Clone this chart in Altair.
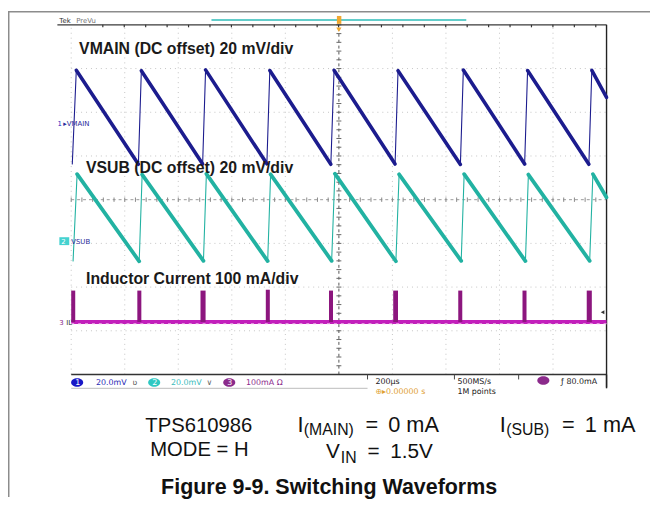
import altair as alt
import pandas as pd

# ---------------- data ----------------
US_PER_DIV = 200          # time base 200 us/div
MV_PER_DIV = 20           # VMAIN / VSUB 20 mV/div
MA_PER_DIV = 100          # inductor current 100 mA/div

# VMAIN sawtooth vertices (time in us relative to trigger, mV around channel marker)
vmain_t = [-996, -981, -749, -738, -509, -498, -269, -258, -30, -18, 210, 221, 454, 465, 694, 705, 934, 945, 1000]
vmain_mv = [-18.5, 24.4, -18.6, 24.2, -18.5, 24.6, -18.4, 24.3, -18.6, 24.4, -18.5, 24.2, -18.7, 24.5, -18.5, 24.3, -18.6, 24.4, 12.0]

# VSUB sawtooth vertices
vsub_t = [-993, -978, -746, -735, -506, -495, -266, -255, -27, -15, 213, 225, 457, 468, 697, 708, 937, 949, 1000]
vsub_mv = [-9.0, 30.7, -9.2, 30.5, -9.0, 30.8, -9.1, 30.6, -9.0, 30.9, -9.2, 30.6, -9.0, 30.7, -9.1, 30.5, -9.0, 30.7, 20.0]

# inductor current pulses (start/end in us, peak in mA)
il_start = [-1000, -753, -517, -273, -37, 203, 446, 686, 926]
il_end = [-985, -738, -498, -258, -22, 221, 461, 701, 945]
il_peak_ma = [72, 72, 72, 74, 72, 72, 72, 72, 72]

# channel marker positions (divisions from screen centre)
ch_offset = {"VMAIN": 1.74, "VSUB": -0.95, "IL": -2.80}

# ---------------- layout helpers ----------------
W, H = 650, 492
OFF = 8
X_REF0, X_PX_DIV = 343.0, 54.2
Y_REF0, Y_PX_DIV = 199.0, 44.25


def tx(xr):
    return (xr - X_REF0) / X_PX_DIV * US_PER_DIV


def dy(yr):
    return (Y_REF0 - yr) / Y_PX_DIV


xs = alt.Scale(domain=[tx(OFF), tx(OFF + W)], nice=False, zero=False)
ys = alt.Scale(domain=[dy(OFF + H), dy(OFF)], nice=False, zero=False)


def X(f="x"):
    return alt.X(f"{f}:Q", scale=xs, axis=None)


def Y(f="y"):
    return alt.Y(f"{f}:Q", scale=ys, axis=None)


def segs(rows):
    return pd.DataFrame(rows, columns=["x", "y", "x2", "y2", "c", "w", "d"])


def rules(df, **kw):
    return alt.Chart(df).mark_rule(**kw).encode(
        x=X("x"), y=Y("y"), x2="x2:Q", y2="y2:Q",
        color=alt.Color("c:N", scale=None),
        size=alt.Size("w:Q", scale=None),
    )


def texts(rows, align="left", **kw):
    df = pd.DataFrame(rows, columns=["t", "xr", "yr", "c"])
    df["x"] = df.xr.map(tx)
    df["y"] = df.yr.map(dy)
    return alt.Chart(df).mark_text(align=align, baseline="alphabetic", **kw).encode(
        x=X("x"), y=Y("y"), text="t:N", color=alt.Color("c:N", scale=None)
    )


layers = []

# ---------------- graticule ----------------
grid_v = [tx(72 + i * X_PX_DIV) for i in range(10) if i != 5]
grid_h = [i for i in range(-3, 4) if i != 0]
gv = pd.DataFrame({"x": grid_v, "y": -4, "y2": 4})
gh = pd.DataFrame({"y": grid_h, "x": tx(72), "x2": tx(614)})
layers.append(alt.Chart(gv).mark_rule(color="#c4c4c4", strokeDash=[1, 4], strokeWidth=1).encode(x=X("x"), y=Y("y"), y2="y2:Q"))
layers.append(alt.Chart(gh).mark_rule(color="#c4c4c4", strokeDash=[1, 4], strokeWidth=1).encode(y=Y("y"), x=X("x"), x2="x2:Q"))

# centre cross-hair with minor ticks
cross = segs([
    [0, -4, 0, 4, "#555555", 1, 0],
    [tx(72), 0, tx(614), 0, "#9a9a9a", 1, 0],
])
layers.append(alt.Chart(cross).mark_rule(strokeDash=[3, 3]).encode(
    x=X("x"), y=Y("y"), x2="x2:Q", y2="y2:Q", color=alt.Color("c:N", scale=None), size=alt.Size("w:Q", scale=None)))
minor = []
for k in range(-20, 21):
    yy = k * 0.2
    minor.append([tx(340.5), yy, tx(345.5), yy, "#666666", 1, 0])
for k in range(-25, 26):
    xx = k * 40
    minor.append([xx, 0.05, xx, -0.05, "#888888", 1, 0])
layers.append(rules(segs(minor)))

# frame (top line with ticks, right and bottom edges)
frame = segs([
    [tx(58), 4, tx(614), 4, "#3a3a3a", 1.2, 0],
    [tx(614), 4, tx(614), -4.3, "#222222", 1.4, 0],
    [tx(72), -4, tx(614), -4, "#333333", 1.6, 0],
    [tx(72), dy(390), tx(372), dy(390), "#bbbbbb", 1, 0],
    [tx(OFF + 0.7), dy(OFF), tx(OFF + 0.7), dy(OFF + H), "#8c8c8c", 1.6, 0],
    [tx(OFF), dy(OFF + 0.7), tx(OFF + W), dy(OFF + 0.7), "#8c8c8c", 1.6, 0],
])
layers.append(rules(frame))
top_ticks = [[tx(104 + i * 21.7), 4.0, tx(104 + i * 21.7), dy(24.5), "#333333", 1.2, 0] for i in range(24)]
layers.append(rules(segs(top_ticks)))

# record-view bar and trigger marker
layers.append(rules(segs([[tx(214), dy(17), tx(472), dy(17), "#2fbcb8", 1.6, 0]])))
trig = pd.DataFrame({"x": [tx(341)], "x2": [tx(345.5)], "y": [dy(13)], "y2": [dy(21)]})
layers.append(alt.Chart(trig).mark_rect(color="#f0a830").encode(x=X("x"), x2="x2:Q", y=Y("y"), y2="y2:Q"))
layers.append(alt.Chart(pd.DataFrame({"x": [0], "y": [dy(27)]})).mark_point(
    shape="triangle-down", filled=True, size=28, color="#f0a830", opacity=1).encode(x=X("x"), y=Y("y")))
layers.append(alt.Chart(pd.DataFrame({"x": [tx(610)], "y": [dy(313)]})).mark_point(
    shape="triangle-left", filled=True, size=18, color="#333333", opacity=1).encode(x=X("x"), y=Y("y")))

# ---------------- waveforms ----------------
def wave_segments(ts, vals, off, per_div, color, w_fall, w_rise):
    rows = []
    for i in range(len(ts) - 1):
        y1 = off + vals[i] / per_div
        y2 = off + vals[i + 1] / per_div
        rows.append([ts[i], y1, ts[i + 1], y2, color, w_fall if y2 < y1 else w_rise, 0])
    return segs(rows)


layers.append(rules(wave_segments(vmain_t, vmain_mv, ch_offset["VMAIN"], MV_PER_DIV, "#1c1c8e", 3.6, 1.1), strokeCap="round"))
layers.append(rules(wave_segments(vsub_t, vsub_mv, ch_offset["VSUB"], MV_PER_DIV, "#22b2a2", 3.8, 1.1), strokeCap="round"))

il_df = pd.DataFrame({"x": il_start, "x2": il_end,
                      "y": [ch_offset["IL"]] * len(il_start),
                      "y2": [ch_offset["IL"] + p / MA_PER_DIV for p in il_peak_ma]})
layers.append(rules(segs([[tx(72), ch_offset["IL"], tx(614), ch_offset["IL"], "#c21fbb", 4, 0]])))
layers.append(rules(segs([[tx(72), ch_offset["IL"] - 0.04, tx(614), ch_offset["IL"] - 0.04, "#f3c4ef", 1, 0]]), strokeDash=[3, 4]))
layers.append(alt.Chart(il_df).mark_rect(color="#8c167e").encode(x=X("x"), x2="x2:Q", y=Y("y"), y2="y2:Q"))

# ---------------- labels on screen ----------------
FONT = "Liberation Sans"
layers.append(texts([
    ["VMAIN (DC offset) 20 mV/div", 80, 52, "#1a1a1a"],
    ["VSUB (DC offset) 20 mV/div", 87, 172, "#1a1a1a"],
    ["Inductor Current 100 mA/div", 87, 284, "#1a1a1a"],
], font=FONT, fontSize=16, fontWeight="bold"))

layers.append(texts([
    ["Tek", 60, 20, "#333333"],
    ["PreVu", 77, 20, "#777777"],
    ["1", 58, 124, "#2020c0"],
    ["▸VMAIN", 64, 124, "#2a2a9a"],
    ["VSUB", 72, 244, "#2a2a9a"],
    ["3", 60, 326, "#8b2a8b"],
    ["IL", 67, 326, "#333333"],
], font="DejaVu Sans", fontSize=7))

badge = pd.DataFrame({"x": [tx(60)], "x2": [tx(70)], "y": [dy(237)], "y2": [dy(245)]})
layers.append(alt.Chart(badge).mark_rect(color="#45d2d0").encode(x=X("x"), x2="x2:Q", y=Y("y"), y2="y2:Q"))
layers.append(texts([["2", 62, 244, "#ffffff"]], font="DejaVu Sans", fontSize=7))

# status bar
ell = pd.DataFrame({"x": [tx(78), tx(156), tx(232), tx(550)], "y": [dy(384), dy(384), dy(384), dy(382)],
                    "c": ["#1717c6", "#2fc8c2", "#8b2a8b", "#8b2a8b"]})
layers.append(alt.Chart(ell).mark_point(
    shape="M-1,0 A1,0.7 0 1,0 1,0 A1,0.7 0 1,0 -1,0 Z", filled=True, size=150, opacity=1).encode(
    x=X("x"), y=Y("y"), color=alt.Color("c:N", scale=None)))
layers.append(texts([
    ["1", 76, 387, "#ffffff"],
    ["2", 154, 387, "#ffffff"],
    ["3", 230, 387, "#ffffff"],
    ["20.0mV", 97, 387, "#2a2ab4"],
    ["ʋ", 134, 387, "#555555"],
    ["20.0mV", 173, 387, "#3cbcbc"],
    ["∨", 209, 387, "#666666"],
    ["100mA Ω", 249, 387, "#8b2a8b"],
    ["200µs", 380, 386, "#222222"],
    ["⊕▸0.00000 s", 380, 396, "#e0a030"],
    ["500MS/s", 463, 386, "#222222"],
    ["1M points", 463, 396, "#222222"],
    ["ƒ  80.0mA", 568, 386, "#222222"],
], font="DejaVu Sans", fontSize=8))
bar_lines = segs([
    [tx(372), -4, tx(372), dy(381), "#444444", 1, 0],
    [tx(460), -4, tx(460), dy(381), "#444444", 1, 0],
    [tx(525), -4, tx(525), dy(381), "#444444", 1, 0],
    [tx(614), -4, tx(614), dy(390), "#222222", 1.4, 0],
])
layers.append(rules(bar_lines))

# ---------------- caption ----------------
layers.append(texts([
    ["TPS610986", 147, 434, "#111111"],
    ["MODE = H", 152, 459, "#111111"],
], font=FONT, fontSize=20.5))
layers.append(texts([
    ["I", 301, 434, "#111111"],
    ["=", 370, 434, "#111111"],
    ["0 mA", 393, 434, "#111111"],
    ["I", 506, 434, "#111111"],
    ["=", 569, 434, "#111111"],
    ["1 mA", 592, 434, "#111111"],
], font=FONT, fontSize=22))
layers.append(texts([
    ["V", 330, 461, "#111111"],
    ["=", 372, 461, "#111111"],
    ["1.5V", 395, 461, "#111111"],
], font=FONT, fontSize=21))
layers.append(texts([
    ["(MAIN)", 307.5, 437.5, "#111111"],
    ["(SUB)", 512.5, 437.5, "#111111"],
    ["IN", 345, 466, "#111111"],
], font=FONT, fontSize=16))
layers.append(texts([["Figure 9-9. Switching Waveforms", 163, 497, "#111111"]], font=FONT, fontSize=21.7, fontWeight="bold"))

chart = alt.layer(*layers).properties(
    width=W, height=H, padding=0, autosize=alt.AutoSizeParams(type="none")
).configure_view(stroke=None)

chart.save("out.html", embed_options={"renderer": "svg", "actions": False})
